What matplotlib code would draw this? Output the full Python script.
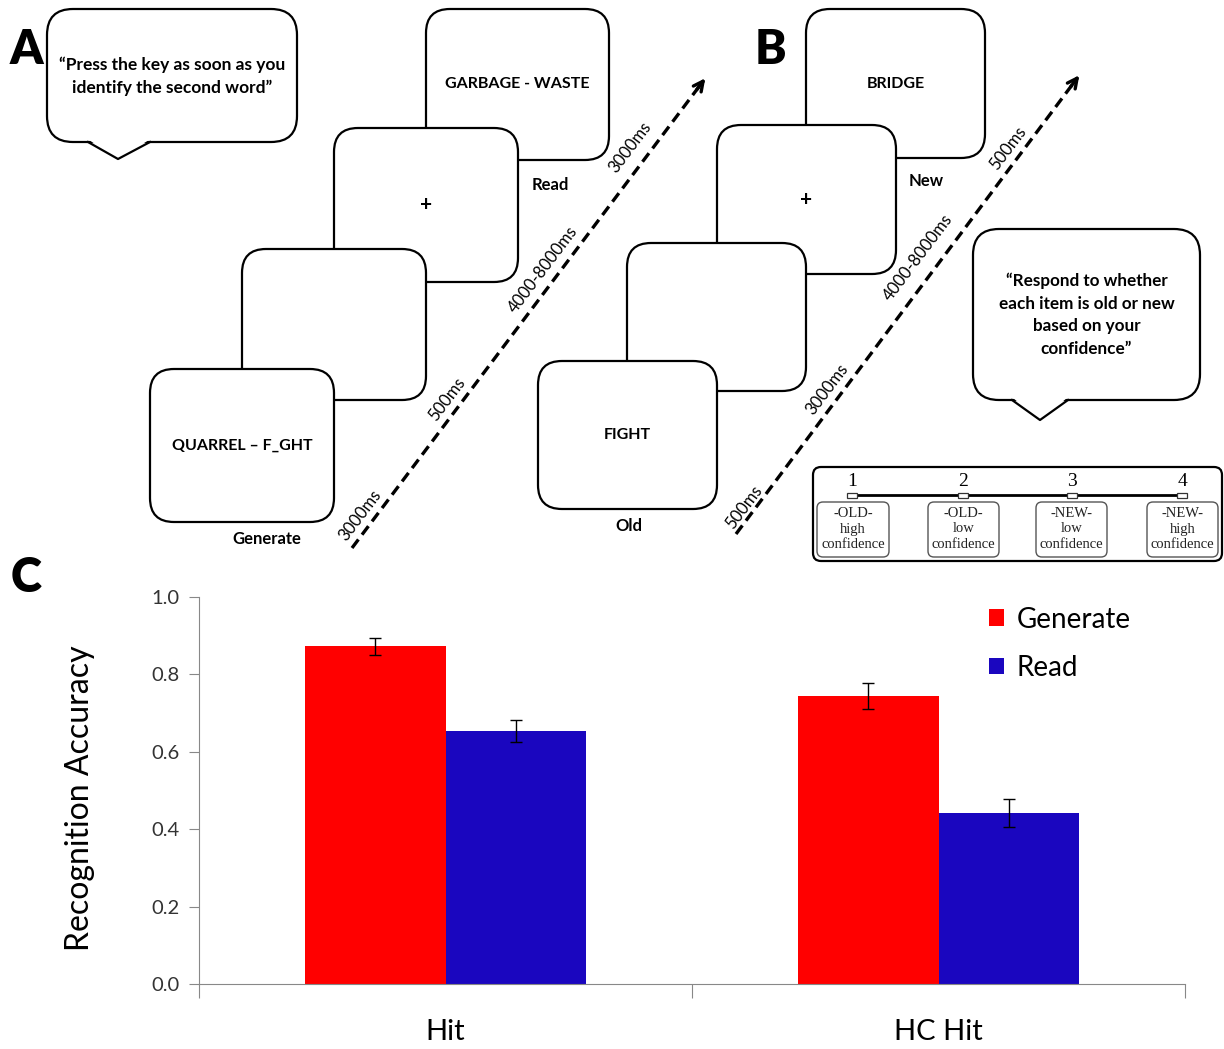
import matplotlib.pyplot as plt
import numpy as np
from matplotlib.patches import FancyBboxPatch, Polygon

# --- Data ---
conditions = ["Hit", "HC Hit"]
groups = ["Generate", "Read"]
generate_vals = [0.873, 0.744]
read_vals = [0.654, 0.441]
generate_err = [0.022, 0.033]
read_err = [0.028, 0.036]
bar_colors = ["#FF0000", "#1A06BF"]
y_ticks = [0.0, 0.2, 0.4, 0.6, 0.8, 1.0]

# --- Diagram text ---
timings_a = ["3000ms", "500ms", "4000-8000ms", "3000ms"]
timings_b = ["500ms", "3000ms", "4000-8000ms", "500ms"]
screens_a = ["QUARREL \u2013 F_GHT", "", "+", "GARBAGE - WASTE"]
screens_b = ["FIGHT", "", "+", "BRIDGE"]
scale_nums = ["1", "2", "3", "4"]
scale_labels = ["-OLD-\nhigh\nconfidence", "-OLD-\nlow\nconfidence",
                "-NEW-\nlow\nconfidence", "-NEW-\nhigh\nconfidence"]

W, H = 1224, 1049
fig = plt.figure(figsize=(W / 100, H / 100), dpi=100)
fig.patch.set_facecolor("white")

SANS = ["Lato", "DejaVu Sans"]

# --- Panel C: bar chart ---
ax = fig.add_axes([199 / W, 1 - 984 / H, 986 / W, 387 / H])
x = np.arange(len(conditions))
bw = 0.286
ax.bar(x - bw / 2, generate_vals, bw, color=bar_colors[0], label=groups[0],
       yerr=generate_err, capsize=4, error_kw=dict(lw=1, capthick=1, ecolor="black"))
ax.bar(x + bw / 2, read_vals, bw, color=bar_colors[1], label=groups[1],
       yerr=read_err, capsize=4, error_kw=dict(lw=1, capthick=1, ecolor="black"))
ax.set_xlim(-0.5, 1.5)
ax.set_ylim(0, 1.0)
ax.set_yticks(y_ticks)
ax.set_yticklabels([f"{v:.1f}" for v in y_ticks], family=SANS, fontsize=14.5, color="#333333")
ax.set_xticks([-0.5, 0.5, 1.5])
ax.set_xticklabels([])
ax.set_xticks(x, minor=True)
ax.set_xticklabels(conditions, minor=True, family=SANS, fontsize=21, color="black")
ax.tick_params(axis="x", which="major", length=10, color="#888888", direction="out")
ax.tick_params(axis="x", which="minor", length=0, pad=25)
ax.tick_params(axis="y", length=7, color="#888888", pad=7)
for s in ["top", "right"]:
    ax.spines[s].set_visible(False)
for s in ["left", "bottom"]:
    ax.spines[s].set_color("#888888")
ax.set_ylabel("Recognition Accuracy", family=SANS, fontsize=23)
ax.yaxis.set_label_coords(-0.105, 0.48)
leg = ax.legend(loc="upper left", bbox_to_anchor=(0.776, 1.04), frameon=False,
                prop=dict(family=SANS, size=20), handlelength=0.55, handleheight=0.55,
                labelspacing=0.8, handletextpad=0.45)

# --- Overlay for panels A and B (pixel units) ---
ov = fig.add_axes([0, 0, 1, 1], facecolor="none")
ov.set_xlim(0, W)
ov.set_ylim(H, 0)
ov.axis("off")


def rbox(x0, y0, x1, y1, z, r=24, lw=1.6, ec="black"):
    p = FancyBboxPatch((x0, y0), x1 - x0, y1 - y0,
                       boxstyle=f"round,pad=0,rounding_size={r}",
                       fc="white", ec=ec, lw=lw, zorder=z)
    ov.add_patch(p)


def bubble(x0, y0, x1, y1, t0, tip, t1, text, fs, ty):
    rbox(x0, y0, x1, y1, 2, r=26)
    ov.add_patch(Polygon([(t0 + 1, y1 - 2), (t1 - 1, y1 - 2), tip], closed=True,
                         fc="white", ec="none", zorder=3))
    ov.plot([t0, tip[0], t1], [y1, tip[1], y1], color="black", lw=1.6, zorder=4)
    ov.text((x0 + x1) / 2, ty, text, ha="center", va="center",
            family=SANS, fontsize=fs, fontweight="bold", linespacing=1.5, zorder=5)


def sequence(boxes, screens, labels, arrow, timings, tpos):
    for i, (b, s) in enumerate(zip(boxes, screens)):
        rbox(*b, z=10 - i)
        cx, cy = (b[0] + b[2]) / 2, (b[1] + b[3]) / 2
        if s:
            ov.text(cx, cy, s, ha="center", va="center", family=SANS,
                    fontsize=15 if s == "+" else 11.5, fontweight="bold", zorder=11)
    for (lx, ly, t) in labels:
        ov.text(lx, ly, t, ha="center", va="center", family=SANS, fontsize=12,
                fontweight="bold", zorder=11)
    (sx, sy), (ex, ey) = arrow
    d = np.hypot(ex - sx, ey - sy)
    ux, uy = (ex - sx) / d, (ey - sy) / d
    ov.plot([sx, ex - ux * 6], [sy, ey - uy * 6], color="black", lw=2.4,
            ls=(0, (3.2, 1.8)), zorder=12)
    ov.annotate("", xy=(ex, ey), xytext=(ex - ux * 20, ey - uy * 20),
                arrowprops=dict(arrowstyle="->,head_length=0.7,head_width=0.35",
                                lw=2.4, color="black"), zorder=12)
    for (px, py), t in zip(tpos, timings):
        ov.text(px, py, t, ha="center", va="center", rotation=53,
                rotation_mode="anchor", family=SANS, fontsize=12, zorder=12)


# Panel A
bubble(47, 9, 297, 142, 88, (118, 159), 150,
       "\u201cPress the key as soon as you\nidentify the second word\u201d", 12.5, 76)
sequence([(150, 369, 334, 522), (242, 249, 426, 400), (334, 128, 518, 282), (426, 9, 609, 160)],
         screens_a,
         [(267, 539, "Generate"), (550, 185, "Read")],
         ((352, 548), (707, 76)), timings_a,
         [(360, 515), (447, 399), (543, 270), (630, 147)])

# Panel B
sequence([(538, 361, 717, 509), (627, 243, 806, 391), (717, 125, 896, 274), (806, 9, 985, 158)],
         screens_b,
         [(629, 526, "Old"), (926, 181, "New")],
         ((736, 534), (1081, 73)), timings_b,
         [(744, 507), (827, 389), (918, 258), (1008, 148)])
bubble(973, 229, 1200, 400, 1012, (1040, 420), 1068,
       "\u201cRespond to whether\neach item is old or new\nbased on your\nconfidence\u201d", 12.3, 315)

# Confidence scale
rbox(813, 467, 1222, 561, 2, r=8, lw=1.6)
tick_x = [852, 963, 1072, 1182]
sub_x = [(817, 889), (928, 999), (1036, 1107), (1147, 1218)]
ov.plot([tick_x[0], tick_x[-1]], [495, 495], color="black", lw=2.0, zorder=3)
for tx, n, (bx0, bx1), lab in zip(tick_x, scale_nums, sub_x, scale_labels):
    ov.add_patch(FancyBboxPatch((tx - 5, 492.5), 10, 5, boxstyle="square,pad=0",
                                fc="white", ec="#333333", lw=0.9, zorder=4))
    ov.text(tx, 481, n, ha="center", va="center", family="Liberation Serif",
            fontsize=14, zorder=4)
    rbox(bx0, 502, bx1, 557, 3, r=6, lw=1.0, ec="#555555")
    ov.text((bx0 + bx1) / 2, 529, lab, ha="center", va="center",
            family="Liberation Serif", fontsize=10.5, linespacing=1.25, color="#222222", zorder=4)

# Panel letters
for lx, ly, l in [(26, 50, "A"), (770, 50, "B"), (26, 578, "C")]:
    ov.text(lx, ly, l, ha="center", va="center", family=SANS, fontsize=34,
            fontweight="heavy")

plt.savefig("out.png", dpi=100, facecolor="white")
